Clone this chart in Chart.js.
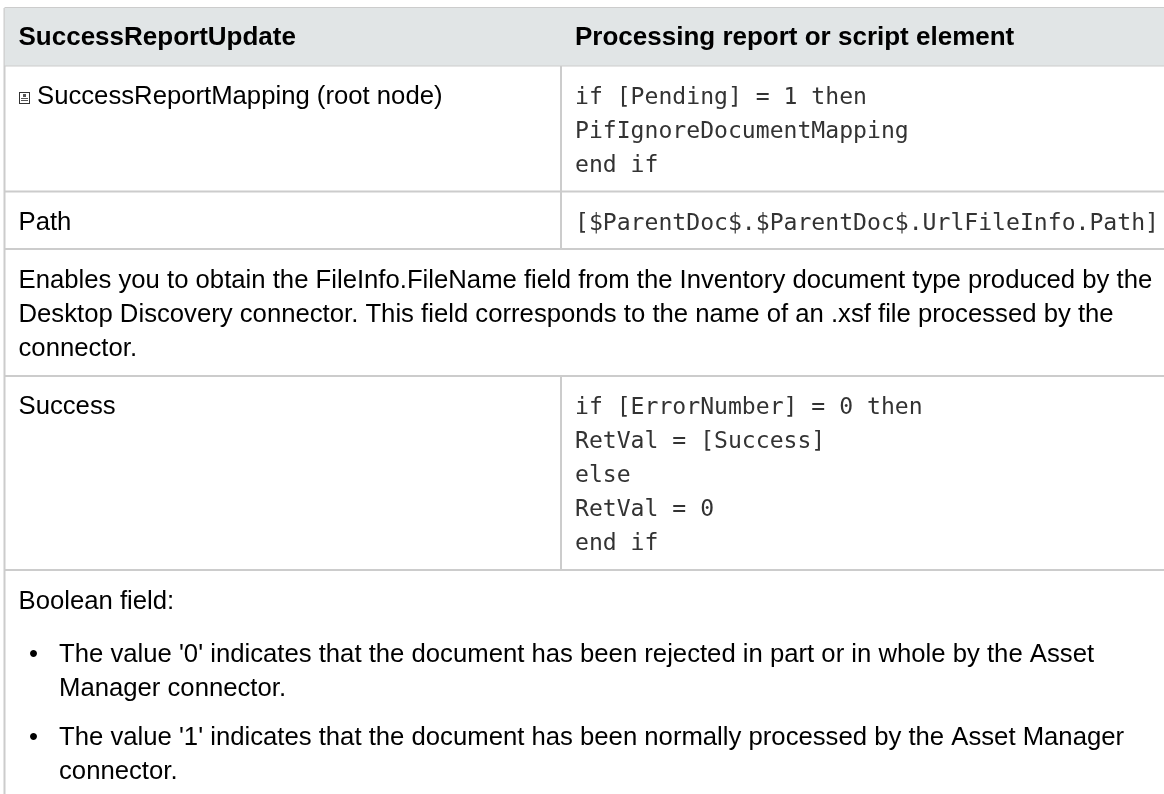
<!DOCTYPE html>
<html>
<head>
<meta charset="utf-8">
<script src="https://cdn.jsdelivr.net/npm/chart.js@4"></script>
<style>
    html, body { margin: 0; padding: 0; background: #fff; overflow: hidden; }
    canvas { display: block; }
</style>
</head>
<body>
<canvas id="tableChart" width="1164" height="794"></canvas>
<script>
// Table content
const headerLabels = ['SuccessReportUpdate', 'Processing report or script element'];
const fieldLabels = ['SuccessReportMapping (root node)', 'Path', 'Success'];
const mappingScript = ['if [Pending] = 1 then', 'PifIgnoreDocumentMapping', 'end if'];
const pathScript = ['[$ParentDoc$.$ParentDoc$.UrlFileInfo.Path]'];
const successScript = ['if [ErrorNumber] = 0 then', 'RetVal = [Success]', 'else', 'RetVal = 0', 'end if'];
const pathNote = [
    'Enables you to obtain the FileInfo.FileName field from the Inventory document type produced by the',
    'Desktop Discovery connector. This field corresponds to the name of an .xsf file processed by the',
    'connector.'
];
const successNote = ['Boolean field:'];
const bulletZero = ["The value '0' indicates that the document has been rejected in part or in whole by the Asset", 'Manager connector.'];
const bulletOne = ["The value '1' indicates that the document has been normally processed by the Asset Manager", 'connector.'];

// Rule positions on the page scale
const rowEdges = [8, 65.5, 191.5, 249, 376, 570];
const columnEdges = [4.5, 561];

const PAGE_W = 1164;
const PAGE_H = 794;
const RULE = '#cccccc';
const SANS = '"Liberation Sans", Arial, sans-serif';
const MONO = '"DejaVu Sans Mono", monospace';

function hLine(y) {
    return { data: [{ x: columnEdges[0], y: y }, { x: PAGE_W, y: y }], borderColor: RULE, borderWidth: 2, pointRadius: 0 };
}

function vLine(x, y0, y1) {
    return { data: [{ x: x, y: y0 }, { x: x, y: y1 }], borderColor: RULE, borderWidth: 2, pointRadius: 0 };
}

const datasets = [
    // header band
    {
        data: [{ x: columnEdges[0], y: rowEdges[0] }, { x: PAGE_W, y: rowEdges[0] }],
        borderWidth: 0,
        pointRadius: 0,
        backgroundColor: '#e1e5e6',
        fill: { value: rowEdges[1] }
    },
    ...rowEdges.map(hLine),
    vLine(columnEdges[0], rowEdges[0], PAGE_H),
    vLine(columnEdges[1], rowEdges[0], rowEdges[3]),
    vLine(columnEdges[1], rowEdges[4], rowEdges[5])
];

function textBlock(ctx, scales, lines, x, y, lineHeight, font, color) {
    ctx.font = font;
    ctx.fillStyle = color || '#000';
    ctx.textBaseline = 'alphabetic';
    lines.forEach((line, i) => {
        ctx.fillText(line, scales.x.getPixelForValue(x), scales.y.getPixelForValue(y + i * lineHeight));
    });
}

function drawDocIcon(ctx, x, y) {
    ctx.strokeStyle = '#333';
    ctx.lineWidth = 1;
    ctx.strokeRect(x + 0.5, y + 0.5, 10, 11);
    ctx.fillStyle = '#555';
    ctx.fillRect(x + 4, y + 2, 3, 3);
    ctx.fillRect(x + 2, y + 6, 7, 1);
    ctx.fillRect(x + 2, y + 8, 7, 1);
}

const tableText = {
    id: 'tableText',
    afterDatasetsDraw(chart) {
        const ctx = chart.ctx;
        const s = chart.scales;
        const body = '25.7px ' + SANS;
        const code = '23.1px ' + MONO;
        const codeColor = '#333';
        ctx.save();
        textBlock(ctx, s, [headerLabels[0]], 18.5, 45, 0, 'bold 26px ' + SANS);
        textBlock(ctx, s, [headerLabels[1]], 575, 45, 0, 'bold 26px ' + SANS);
        drawDocIcon(ctx, 19, 92);
        textBlock(ctx, s, [fieldLabels[0]], 37, 104, 0, body);
        textBlock(ctx, s, mappingScript, 575, 104, 34, code, codeColor);
        textBlock(ctx, s, [fieldLabels[1]], 18.5, 230, 0, body);
        textBlock(ctx, s, pathScript, 575, 230, 0, code, codeColor);
        textBlock(ctx, s, pathNote, 18.5, 288, 34, body);
        textBlock(ctx, s, [fieldLabels[2]], 18.5, 414, 0, body);
        textBlock(ctx, s, successScript, 575, 414, 34, code, codeColor);
        textBlock(ctx, s, successNote, 18.5, 608.5, 0, body);
        textBlock(ctx, s, ['•'], 29, 662, 0, body);
        textBlock(ctx, s, bulletZero, 59, 662, 34, body);
        textBlock(ctx, s, ['•'], 29, 744.5, 0, body);
        textBlock(ctx, s, bulletOne, 59, 744.5, 34, body);
        ctx.restore();
    }
};

new Chart(document.getElementById('tableChart'), {
    type: 'scatter',
    data: { datasets: datasets.map(d => Object.assign({ showLine: true }, d)) },
    options: {
        responsive: false,
        animation: false,
        events: [],
        layout: { padding: 0 },
        plugins: { legend: { display: false }, tooltip: { enabled: false } },
        scales: {
            x: { type: 'linear', min: 0, max: PAGE_W, display: false },
            y: { type: 'linear', min: 0, max: PAGE_H, reverse: true, display: false }
        }
    },
    plugins: [tableText]
});
</script>
</body>
</html>
